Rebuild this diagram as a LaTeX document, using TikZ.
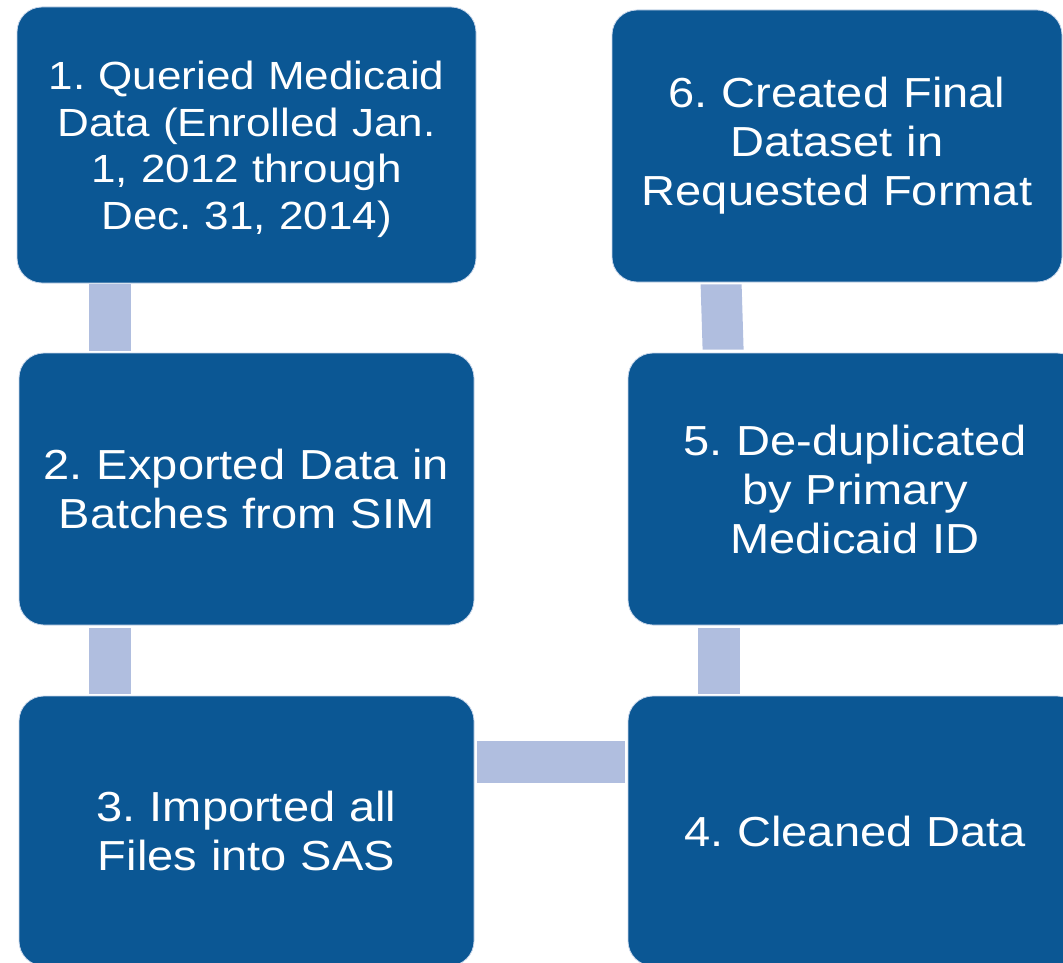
\documentclass[tikz,border=0pt]{standalone}
\usepackage{fontspec}
\setmainfont{Liberation Sans}[FakeStretch=1.12]
\usetikzlibrary{calc}
\definecolor{boxblue}{RGB}{11,87,148}
\definecolor{connblue}{RGB}{176,190,223}
\definecolor{rimblue}{RGB}{200,214,234}
\begin{document}
\frenchspacing
\begin{tikzpicture}[x=1pt,y=-1pt,
  stepbox/.style={shape=rectangle, rounded corners=25pt, fill=boxblue, draw=rimblue, line width=0.8pt,
    text=white, align=center, inner sep=0pt, font=\fontsize{42}{49}\selectfont},
  smalltext/.style={font=\fontsize{39.3}{46.7}\selectfont},
  conn/.style={fill=connblue}]
\useasboundingbox (0,0) rectangle (1063,963);
\clip (0,0) rectangle (1063,963);
\node[stepbox, smalltext, minimum width=459pt, minimum height=276pt, text width=445pt] (b1) at (246.5,145)
  {\rule{0pt}{37pt}1. Queried Medicaid\\Data (Enrolled Jan.\\1, 2012 through\\Dec. 31, 2014)};
\node[stepbox, minimum width=455pt, minimum height=272pt, text width=445pt] (b2) at (246.5,489)
  {2. Exported Data in\\Batches from SIM};
\node[stepbox, minimum width=455pt, minimum height=270pt, text width=445pt] (b3) at (246.5,831)
  {3. Imported all\\Files into SAS};
\node[stepbox, minimum width=454pt, minimum height=270pt, text width=445pt] (b4) at (855,831)
  {4. Cleaned Data};
\node[stepbox, minimum width=454pt, minimum height=272pt, text width=445pt] (b5) at (855,489)
  {5. De-duplicated\\by Primary\\Medicaid ID};
\node[stepbox, minimum width=450pt, minimum height=272pt, text width=445pt] (b6) at (837,146)
  {6. Created Final\\Dataset in\\Requested Format};
\fill[conn] ($(b1.south west)+(72,1)$) rectangle ($(b2.north west)+(112,-2)$);
\fill[conn] ($(b2.south west)+(70,3)$) rectangle ($(b3.north west)+(112,-2)$);
\fill[conn] ($(b3.north east)+(3,45)$) rectangle ($(b4.north west)+(-3,87)$);
\fill[conn] ($(b5.south west)+(70,3)$) rectangle ($(b4.north west)+(112,-2)$);
\fill[conn] ($(b6.south west)+(89,2)$) -- ($(b6.south west)+(130,2)$)
  -- ($(b5.north west)+(116,-3)$) -- ($(b5.north west)+(75,-3)$) -- cycle;
\end{tikzpicture}
\end{document}
